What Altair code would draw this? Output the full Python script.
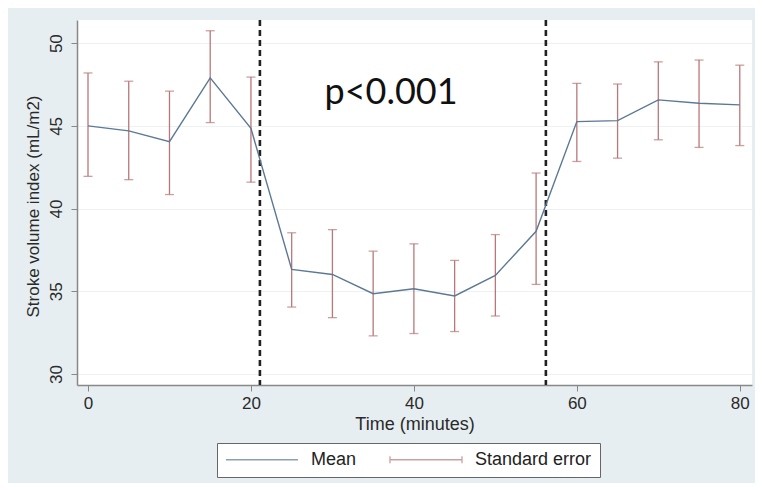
import altair as alt
import pandas as pd

# ---- data ----
times = [0, 5, 10, 15, 20, 25, 30, 35, 40, 45, 50, 55, 60, 65, 70, 75, 80]
means = [45.0, 44.7, 44.05, 47.9, 44.85, 36.33, 36.02, 34.86, 35.16, 34.72,
         35.96, 38.63, 45.26, 45.32, 46.57, 46.37, 46.27]
upper = [48.2, 47.7, 47.1, 50.75, 47.95, 38.54, 38.73, 37.43, 37.87, 36.87,
         38.43, 42.15, 47.57, 47.53, 48.87, 48.98, 48.67]
lower = [41.95, 41.75, 40.85, 45.2, 41.6, 34.05, 33.41, 32.31, 32.45, 32.57,
         33.51, 35.42, 42.85, 43.05, 44.16, 43.7, 43.81]
series_names = ["Mean", "Standard error"]
vlines = [21.1, 56.2]
annot_text = ["p<0.001"]
annot_x = [37.2]
annot_y = [46.3]
x_ticks = [0, 20, 40, 60, 80]
y_ticks = [30, 35, 40, 45, 50]

LINE_C = "#5b7895"
ERR_C = "#b87878"
BG = "#e7eef1"
FONT = "Liberation Sans"
SE_SYMBOL = "M-1,0H1M-1,-0.1V0.1M1,-0.1V0.1"

df = pd.DataFrame({"t": times, "mean": means, "hi": upper, "lo": lower})
df_mean = df.assign(series=series_names[0])
df_err = df.assign(series=series_names[1])
df_v = pd.DataFrame({"x": vlines})
df_txt = pd.DataFrame({"x": annot_x, "y": annot_y, "label": annot_text})

xscale = alt.Scale(domain=[-1.35, 81.5], nice=False, zero=False)
yscale = alt.Scale(domain=[29.34, 51.4], nice=False, zero=False)

xaxis = alt.Axis(values=x_ticks, title="Time (minutes)", grid=False,
                 labelFont=FONT, labelFontSize=17, labelColor="#2a2a2a",
                 titleFont=FONT, titleFontSize=18, titleFontWeight="normal",
                 titleColor="#2a2a2a", tickSize=6, labelPadding=4,
                 titlePadding=4, domainColor="#888", tickColor="#888",
                 domainWidth=1.5)
yaxis = alt.Axis(values=y_ticks, title="Stroke volume index (mL/m2)",
                 grid=True, gridColor="#edf1f4", gridWidth=1,
                 labelAngle=270, labelAlign="center", labelBaseline="alphabetic",
                 labelFont=FONT, labelFontSize=17, labelColor="#2a2a2a",
                 titleFont=FONT, titleFontSize=17, titleFontWeight="normal",
                 titleColor="#2a2a2a", tickSize=6, labelPadding=10,
                 titleX=-44, titleY=186, titleBaseline="middle",
                 domainColor="#888", tickColor="#888", domainWidth=1.5)

legend = alt.Legend(
    orient="none", legendX=140, legendY=423, direction="horizontal",
    title=None, symbolSize=5184, symbolStrokeWidth=1.3,
    symbolFillColor="transparent",
    labelFont=FONT, labelFontSize=18,
    labelColor="#222", padding=8, strokeColor="#666", fillColor="white",
    columnPadding=32, labelOffset=12, clipHeight=17,
)
color = alt.Color("series:N",
                  scale=alt.Scale(domain=series_names, range=[LINE_C, ERR_C]),
                  legend=legend)
shape = alt.Shape("series:N",
                  scale=alt.Scale(domain=series_names, range=["stroke", SE_SYMBOL]),
                  legend=legend)

err = alt.Chart(df_err).mark_rule(strokeWidth=1.3).encode(
    x=alt.X("t:Q", scale=xscale, axis=xaxis),
    y=alt.Y("lo:Q", scale=yscale, axis=yaxis),
    y2="hi:Q",
    color=color,
)
cap_hi = alt.Chart(df).mark_tick(orient="horizontal", size=9, thickness=1.3,
                                  color=ERR_C).encode(x="t:Q", y="hi:Q")
cap_lo = alt.Chart(df).mark_tick(orient="horizontal", size=9, thickness=1.3,
                                  color=ERR_C).encode(x="t:Q", y="lo:Q")
line = alt.Chart(df_mean).mark_line(strokeWidth=1.4).encode(
    x="t:Q", y="mean:Q", color=color)
# legend-only layer: carries the symbol shapes, draws nothing
legend_layer = alt.Chart(df_err).transform_filter("false").mark_point(
    filled=False).encode(x="t:Q", y="mean:Q", color=color, shape=shape)
vl = alt.Chart(df_v).mark_rule(color="#222", strokeWidth=2.6,
                               strokeDash=[6, 4]).encode(x="x:Q")
txt = alt.Chart(df_txt).mark_text(font="Lato", fontSize=36, color="#111",
                                  align="center", baseline="alphabetic").encode(
    x="x:Q", y="y:Q", text="label:N")

chart = alt.layer(vl, err, cap_hi, cap_lo, line, legend_layer, txt).properties(
    width=675, height=365,
    autosize=alt.AutoSizeParams(type="none"),
    padding={"left": 69, "top": 12, "right": 3, "bottom": 98},
    background=BG,
).configure_view(fill="white", stroke=None)

chart.save("out.html", embed_options={"renderer": "svg", "actions": False})
